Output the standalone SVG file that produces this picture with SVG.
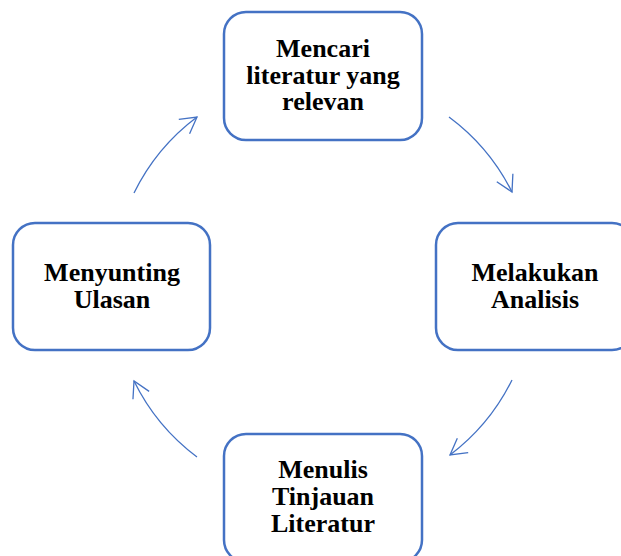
<svg xmlns="http://www.w3.org/2000/svg" width="621" height="556" viewBox="0 0 621 556">
<style>
.box{fill:#fff;stroke:#4472C4;stroke-width:2.5}
.lbl{font-family:"Liberation Serif","Times New Roman",serif;font-weight:bold;font-size:26px;fill:#000;text-anchor:middle}
.arc{fill:none;stroke:#4472C4;stroke-width:1.3;marker-end:url(#ah)}
</style>
<defs>
<marker id="ah" markerUnits="userSpaceOnUse" markerWidth="24" markerHeight="24" viewBox="-20 -12 24 24" refX="0" refY="0" orient="auto" overflow="visible">
<path d="M-16,-9 L0,0 L-16,9" fill="none" stroke="#4472C4" stroke-width="1.3"/>
</marker>
</defs>
<rect width="621" height="556" fill="#fff"/>
<g id="connectors">
<path class="arc" d="M449,117 A211,211 0 0 1 512,192"/>
<path class="arc" d="M512,380 A211,211 0 0 1 450,455"/>
<path class="arc" d="M197,457 A211,211 0 0 1 134,381"/>
<path class="arc" d="M134,193 A211,211 0 0 1 197,117"/>
</g>
<g id="node-top">
<rect class="box" x="224" y="12" width="198" height="128" rx="22"/>
<text class="lbl" x="323" y="57">Mencari</text>
<text class="lbl" x="323" y="84">literatur yang</text>
<text class="lbl" x="323" y="110">relevan</text>
</g>
<g id="node-right">
<rect class="box" x="436" y="223" width="198" height="127" rx="22"/>
<text class="lbl" x="535" y="281">Melakukan</text>
<text class="lbl" x="535" y="308">Analisis</text>
</g>
<g id="node-bottom">
<rect class="box" x="224" y="434" width="198" height="128" rx="22"/>
<text class="lbl" x="323" y="478">Menulis</text>
<text class="lbl" x="323" y="505">Tinjauan</text>
<text class="lbl" x="323" y="532">Literatur</text>
</g>
<g id="node-left">
<rect class="box" x="13" y="223" width="197" height="127" rx="22"/>
<text class="lbl" x="112" y="281">Menyunting</text>
<text class="lbl" x="112" y="308">Ulasan</text>
</g>
</svg>
